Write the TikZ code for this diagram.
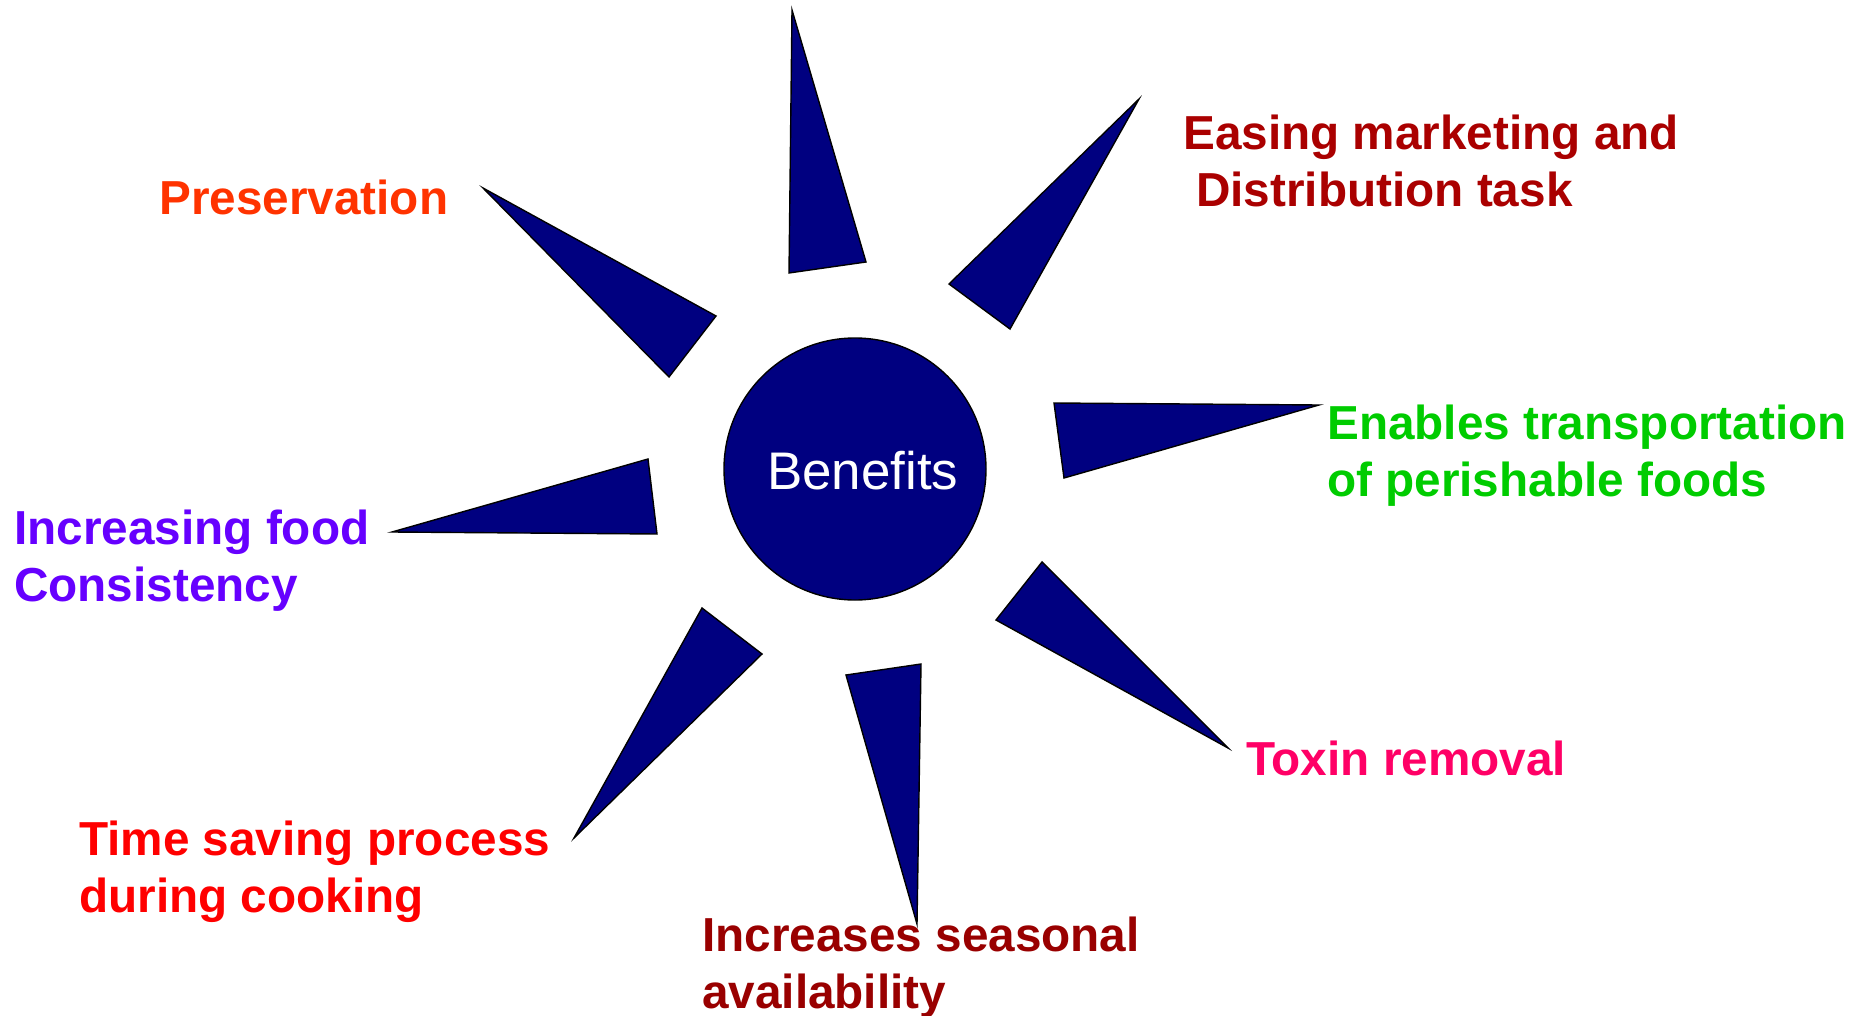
\documentclass[tikz,border=0pt]{standalone}
\usepackage{fontspec}
\setmainfont{Liberation Sans}
\begin{document}
\begin{tikzpicture}[x=1pt,y=-1pt,
  ray/.style={fill={rgb,255:red,0;green,0;blue,128},draw=black,line width=1.4pt,line join=miter},
  lbl/.style={anchor=base west,align=left,inner sep=0pt,font=\fontsize{47.7}{57}\selectfont\bfseries}]
\definecolor{cPres}{RGB}{255,51,0}
\definecolor{cEase}{RGB}{170,0,0}
\definecolor{cTrans}{RGB}{0,204,0}
\definecolor{cCons}{RGB}{102,0,255}
\definecolor{cToxin}{RGB}{255,0,102}
\definecolor{cTime}{RGB}{255,0,0}
\definecolor{cSeas}{RGB}{153,0,0}
\useasboundingbox (0,0) rectangle (1870,1016);

% rays around the hub
\draw[ray] (792,10) -- (866,262) -- (789,273) -- cycle;
\draw[ray] (1139,99) -- (1010,329) -- (949,284) -- cycle;
\draw[ray] (1319,405) -- (1064,478) -- (1054,403) -- cycle;
\draw[ray] (1228,748) -- (996,620) -- (1042,562) -- cycle;
\draw[ray] (917,924) -- (846,675) -- (921,664) -- cycle;
\draw[ray] (574,838) -- (702,608) -- (762,654) -- cycle;
\draw[ray] (392,532) -- (648,459) -- (657,534) -- cycle;
\draw[ray] (483,188) -- (716,316) -- (669,377) -- cycle;

% hub
\node[circle,minimum size=262pt,inner sep=0pt,ray] (hub) at (855,469) {};
\node[anchor=base west,inner sep=0pt,text=white,font=\fontsize{52.9}{60}\selectfont] (hubtxt) at (767,489) {Benefits};

% benefit labels (multi-line ones are placed by the baseline of their last line)
\node[lbl,text=cPres] (pres) at (159,215) {Preservation};
\node[lbl,text=cEase] (ease) at (1183,207) {Easing marketing and\\\hspace{13pt}Distribution task};
\node[lbl,text=cTrans] (trans) at (1327,496) {Enables transportation\\of perishable foods};
\node[lbl,text=cCons] (cons) at (14,601) {Increasing food\\Consistency};
\node[lbl,text=cToxin] (toxin) at (1246,775) {Toxin removal};
\node[lbl,text=cTime] (time) at (79,912) {Time saving process\\during cooking};
\node[lbl,text=cSeas] (seas) at (702,1008) {Increases seasonal\\availability};
\end{tikzpicture}
\end{document}
